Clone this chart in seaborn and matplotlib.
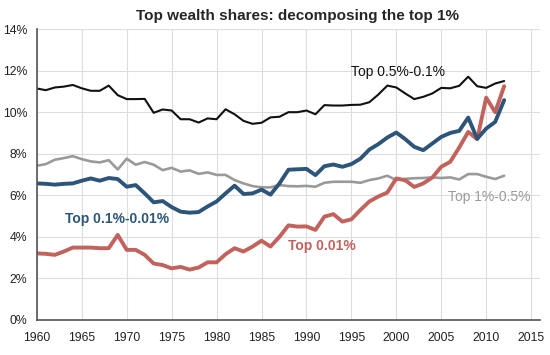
import numpy as np
import pandas as pd
import matplotlib
matplotlib.use("Agg")
import matplotlib.pyplot as plt
import seaborn as sns

years = list(range(1960, 2013))

# Top 0.5%-0.1%
top_05_01 = [11.14, 11.06, 11.19, 11.23, 11.31, 11.15, 11.03, 11.03, 11.28, 10.82,
             10.63, 10.63, 10.64, 9.97, 10.13, 10.08, 9.66, 9.66, 9.50, 9.70,
             9.66, 10.14, 9.90, 9.58, 9.44, 9.49, 9.75, 9.78, 10.00, 10.00,
             10.08, 9.90, 10.34, 10.32, 10.32, 10.35, 10.36, 10.48, 10.85, 11.28,
             11.19, 10.90, 10.63, 10.74, 10.90, 11.17, 11.15, 11.27, 11.71, 11.25,
             11.17, 11.38, 11.50]

# Top 1%-0.5%
top_1_05 = [7.42, 7.50, 7.71, 7.79, 7.88, 7.74, 7.63, 7.58, 7.69, 7.24,
            7.76, 7.47, 7.60, 7.47, 7.21, 7.32, 7.14, 7.20, 7.03, 7.10,
            6.98, 6.98, 6.73, 6.57, 6.44, 6.38, 6.38, 6.49, 6.44, 6.43,
            6.45, 6.41, 6.60, 6.65, 6.65, 6.65, 6.60, 6.73, 6.81, 6.94,
            6.73, 6.79, 6.82, 6.83, 6.86, 6.83, 6.86, 6.76, 7.02, 7.02,
            6.89, 6.78, 6.94]

# Top 0.1%-0.01%
top_01_001 = [6.57, 6.55, 6.51, 6.55, 6.57, 6.70, 6.81, 6.70, 6.83, 6.78,
              6.41, 6.49, 6.09, 5.66, 5.72, 5.43, 5.21, 5.16, 5.19, 5.46,
              5.70, 6.09, 6.46, 6.06, 6.09, 6.27, 6.03, 6.57, 7.23, 7.25,
              7.27, 6.97, 7.40, 7.48, 7.37, 7.50, 7.76, 8.20, 8.46, 8.78,
              9.02, 8.70, 8.33, 8.17, 8.49, 8.81, 9.00, 9.10, 9.74, 8.72,
              9.21, 9.53, 10.58]

# Top 0.01%
top_001 = [3.20, 3.18, 3.13, 3.29, 3.48, 3.48, 3.48, 3.45, 3.45, 4.09,
           3.37, 3.37, 3.13, 2.71, 2.64, 2.48, 2.55, 2.42, 2.52, 2.77,
           2.77, 3.16, 3.45, 3.29, 3.53, 3.81, 3.53, 4.00, 4.55, 4.49,
           4.50, 4.33, 4.97, 5.09, 4.73, 4.84, 5.29, 5.70, 5.94, 6.13,
           6.81, 6.72, 6.40, 6.57, 6.85, 7.37, 7.61, 8.30, 9.05, 8.70,
           10.70, 10.00, 11.25]

y_ticks = [0, 2, 4, 6, 8, 10, 12, 14]
x_ticks = list(range(1960, 2016, 5))

black = "#111111"
grey = "#9a9a9a"
blue = "#2c5579"
red = "#c2625c"

sns.set_style("white")
plt.rcParams['font.family'] = ['Liberation Sans', 'DejaVu Sans']

fig = plt.figure(figsize=(5.5, 3.55), dpi=100)
ax = fig.add_axes([0.067, 0.099, 0.915, 0.819])

sns.lineplot(x=years, y=top_1_05, color=grey, linewidth=1.9, ax=ax)
sns.lineplot(x=years, y=top_05_01, color=black, linewidth=1.5, ax=ax)
sns.lineplot(x=years, y=top_001, color=red, linewidth=2.8, ax=ax)
sns.lineplot(x=years, y=top_01_001, color=blue, linewidth=2.8, ax=ax)

ax.set_xlim(1960, 2016)
ax.set_ylim(0, 14)
ax.set_xticks(x_ticks)
ax.set_yticks(y_ticks)
ax.set_yticklabels([str(v) + "%" for v in y_ticks])
ax.tick_params(axis='both', labelsize=8.8, length=0, colors="#222222")
ax.tick_params(axis='y', pad=7)
ax.tick_params(axis='x', pad=9)
ax.grid(True, color="#dddddd", linewidth=0.8)
ax.set_axisbelow(True)
for side in ["top", "right"]:
    ax.spines[side].set_visible(False)
for side in ["left", "bottom"]:
    ax.spines[side].set_color("#555555")
    ax.spines[side].set_linewidth(1.2)

ax.text(1995.0, 11.95, "Top 0.5%-0.1%", fontsize=10, color=black, va="center")
ax.text(1963.1, 4.86, "Top 0.1%-0.01%", fontsize=10, color=blue, fontweight="bold", va="center")
ax.text(1988.0, 3.55, "Top 0.01%", fontsize=10, color=red, fontweight="bold", va="center")
ax.text(2005.8, 5.9, "Top 1%-0.5%", fontsize=10, color=grey, va="center")

fig.text(0.54, 0.955, "Top wealth shares: decomposing the top 1%", fontsize=11,
         fontweight="bold", ha="center", va="center")

fig.savefig("out.png", dpi=100)
